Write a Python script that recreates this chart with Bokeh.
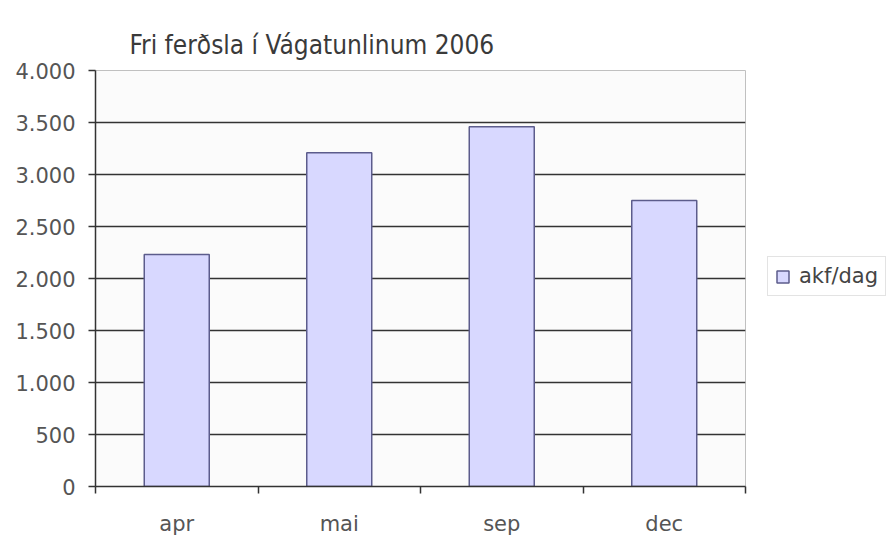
from bokeh.plotting import figure
from bokeh.models import FixedTicker, Range1d, Legend, LegendItem, ColumnDataSource
from bokeh.embed import file_html
from bokeh.resources import INLINE

months = ["apr", "mai", "sep", "dec"]
akf_dag = [2230, 3210, 3460, 2750]
y_ticks = [0, 500, 1000, 1500, 2000, 2500, 3000, 3500, 4000]
y_labels = ["0", "500", "1.000", "1.500", "2.000", "2.500", "3.000", "3.500", "4.000"]
title_text = "Fri ferðsla í Vágatunlinum 2006"
series_name = "akf/dag"

xs = [i + 0.5 for i in range(len(months))]
src = ColumnDataSource(dict(x=xs, top=akf_dag, month=months))

p = figure(frame_width=650, frame_height=416, output_backend="svg", toolbar_location=None,
           x_range=Range1d(0, len(months)), y_range=Range1d(y_ticks[0], y_ticks[-1]),
           min_border_left=95, min_border_right=145, min_border_top=70, min_border_bottom=49)

p.background_fill_color = "#fbfbfb"
p.border_fill_color = "white"
p.outline_line_color = "#c0c0c0"
p.outline_line_width = 1

r = p.vbar(x="x", top="top", width=0.4, source=src, fill_color="#d8d8ff",
           line_color="#5c5c8c", line_width=1.5)

# title
p.title.text = title_text
p.title.text_font = "'Liberation Sans Narrow', 'DejaVu Sans Condensed', 'Noto Sans Condensed', 'Roboto Condensed', Roboto, sans-serif"
p.title.text_font_size = "26px"
p.title.text_font_style = "normal"
p.title.text_color = "#3a3a3a"
p.title.align = "left"
p.title.offset = 34
p.title.standoff = 22

lab_font = "DejaVu Sans"
lab_size = "21px"
lab_color = "#555555"

# y axis
p.yaxis.ticker = FixedTicker(ticks=y_ticks)
p.yaxis.major_label_overrides = {t: l for t, l in zip(y_ticks, y_labels)}
p.yaxis.major_label_text_font = lab_font
p.yaxis.major_label_text_font_size = lab_size
p.yaxis.major_label_text_color = lab_color
p.yaxis.major_tick_in = 0
p.yaxis.major_tick_out = 7
p.yaxis.minor_tick_line_color = None
p.yaxis.axis_line_color = "#333333"
p.yaxis.major_tick_line_color = "#333333"
p.yaxis.axis_line_width = 1.5
p.yaxis.major_tick_line_width = 1.5
p.yaxis.major_label_standoff = 13

# x axis
p.xaxis.ticker = FixedTicker(ticks=xs, minor_ticks=list(range(len(months) + 1)))
p.xaxis.major_label_overrides = {x: m for x, m in zip(xs, months)}
p.xaxis.major_label_text_font = lab_font
p.xaxis.major_label_text_font_size = lab_size
p.xaxis.major_label_text_color = lab_color
p.xaxis.major_tick_line_color = None
p.xaxis.minor_tick_in = 0
p.xaxis.minor_tick_out = 7
p.xaxis.minor_tick_line_color = "#333333"
p.xaxis.minor_tick_line_width = 1.5
p.xaxis.axis_line_color = "#333333"
p.xaxis.axis_line_width = 1.5
p.xaxis.major_label_standoff = 18

# grid
p.xgrid.grid_line_color = None
p.ygrid.ticker = FixedTicker(ticks=y_ticks[1:-1])
p.ygrid.grid_line_color = "#333333"
p.ygrid.grid_line_width = 1.5

legend = Legend(items=[LegendItem(label=series_name, renderers=[r])],
                location=(22, 190), orientation="vertical")
legend.label_text_font = lab_font
legend.label_text_font_size = lab_size
legend.label_text_color = "#444444"
legend.glyph_width = 15
legend.glyph_height = 15
legend.border_line_color = "#c8c8c8"
legend.background_fill_color = "white"
legend.background_fill_alpha = 1
legend.padding = 7
legend.spacing = 0
legend.label_standoff = 9
legend.margin = 0
p.add_layout(legend, "right")

open("out.html", "w").write(file_html(p, INLINE))
